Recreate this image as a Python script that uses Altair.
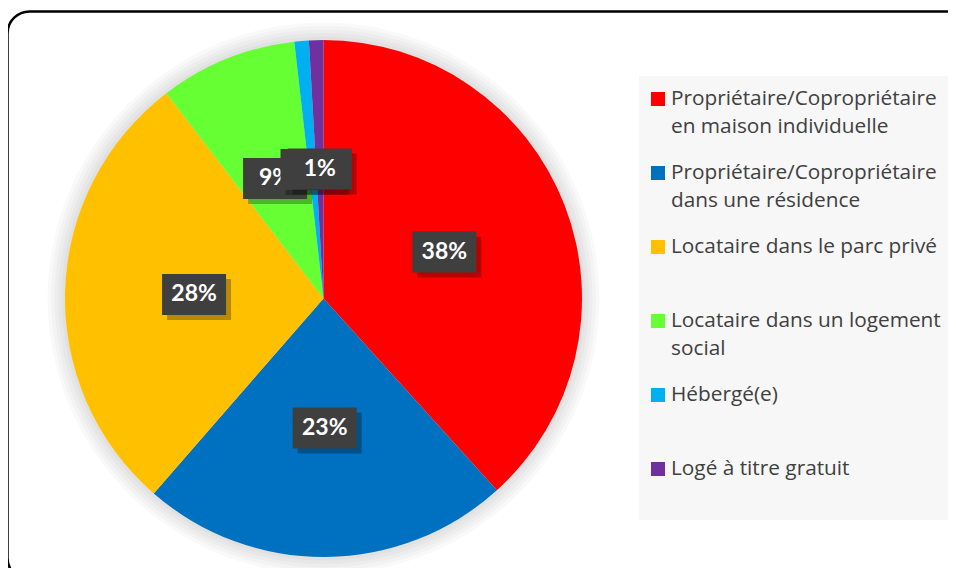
import altair as alt
import pandas as pd

categories = [
    "Propriétaire/Copropriétaire en maison individuelle",
    "Propriétaire/Copropriétaire dans une résidence",
    "Locataire dans le parc privé",
    "Locataire dans un logement social",
    "Hébergé(e)",
    "Logé à titre gratuit",
]
line1 = [
    "Propriétaire/Copropriétaire",
    "Propriétaire/Copropriétaire",
    "Locataire dans le parc privé",
    "Locataire dans un logement",
    "Hébergé(e)",
    "Logé à titre gratuit",
]
line2 = ["en maison individuelle", "dans une résidence", "", "social", "", ""]
values = [38.3, 23.1, 28.2, 8.6, 0.9, 0.9]
colors = ["#FF0000", "#0070C0", "#FFC000", "#66FF33", "#00B0F0", "#7030A0"]

df = pd.DataFrame({
    "cat": categories,
    "l1": line1,
    "l2": line2,
    "value": values,
    "order": list(range(1, len(categories) + 1)),
})

W, H = 940, 560
CX, CY, R, RL = 315.5, 290.5, 258.5, 129.5
BW, BH = 64, 41

color_scale = alt.Scale(domain=categories, range=colors)
base = alt.Chart(df)

# outer rounded border
border = base.transform_filter("datum.order == 1").mark_rect(
    fill="transparent", stroke="black", strokeWidth=2.5, cornerRadius=22
).encode(x=alt.value(-0.5), x2=alt.value(W + 30), y=alt.value(3.5), y2=alt.value(H + 12))

# soft shadow around pie
glow = []
for k in range(1, 6):
    glow.append(
        base.transform_aggregate(total="sum(value)").mark_arc(
            radius=R + 3.5 * k, color="black", opacity=0.022
        ).encode(theta=alt.Theta("total:Q"), x=alt.value(CX), y=alt.value(CY))
    )

pie = base.mark_arc(radius=R).encode(
    theta=alt.Theta("value:Q", stack=True),
    color=alt.Color("cat:N", scale=color_scale, legend=None),
    order=alt.Order("order:Q", sort="ascending"),
    x=alt.value(CX),
    y=alt.value(CY),
)

lab = base.transform_joinaggregate(total="sum(value)").transform_window(
    cum="sum(value)", sort=[alt.SortField("order", order="ascending")]
).transform_calculate(
    mid="(datum.cum - datum.value/2) / datum.total * 2 * PI",
    px=f"{CX} + {RL} * sin(datum.mid)",
    py=f"{CY} - {RL} * cos(datum.mid)",
    bx1=f"datum.px - {BW/2}",
    bx2=f"datum.px + {BW/2}",
    by1=f"datum.py - {BH/2}",
    by2=f"datum.py + {BH/2}",
    sx1=f"datum.px - {BW/2} + 5",
    sx2=f"datum.px + {BW/2} + 5",
    sy1=f"datum.py - {BH/2} + 5",
    sy2=f"datum.py + {BH/2} + 5",
    lbl="round(datum.value) + '%'",
)


def label_group(flt):
    b = lab.transform_filter(flt)
    shadow = b.mark_rect(color="black", opacity=0.28).encode(
        x=alt.X("sx1:Q", scale=None, axis=None), x2="sx2:Q",
        y=alt.Y("sy1:Q", scale=None, axis=None), y2="sy2:Q",
    )
    box = b.mark_rect(color="#3F3F3F").encode(
        x=alt.X("bx1:Q", scale=None, axis=None), x2="bx2:Q",
        y=alt.Y("by1:Q", scale=None, axis=None), y2="by2:Q",
    )
    txt = b.mark_text(
        font="Lato", fontWeight="bold", fontSize=23, color="white",
        align="center", baseline="middle",
    ).encode(
        x=alt.X("px:Q", scale=None, axis=None),
        y=alt.Y("py:Q", scale=None, axis=None),
        text="lbl:N",
    )
    return [shadow, box, txt]


label_layers = label_group("datum.order <= 4")
for o in range(5, len(categories) + 1):
    label_layers += label_group(f"datum.order == {o}")

# legend
FONT = "Open Sans"
FS = 20.8
leg = base.transform_calculate(ly="91 + (datum.order - 1) * 74")
leg_bg = base.transform_filter("datum.order == 1").mark_rect(color="#F7F7F7").encode(
    x=alt.value(631), x2=alt.value(W + 10), y=alt.value(68), y2=alt.value(512)
)
leg_sq = leg.mark_square(size=196, opacity=1).encode(
    x=alt.value(650),
    y=alt.Y("ly:Q", scale=None, axis=None),
    color=alt.Color("cat:N", scale=color_scale, legend=None),
)
leg_t1 = leg.mark_text(
    font=FONT, fontSize=FS, color="#404040", align="left", baseline="middle"
).encode(x=alt.value(663), y=alt.Y("ly:Q", scale=None, axis=None), text="l1:N")
leg_t2 = leg.mark_text(
    font=FONT, fontSize=FS, color="#404040", align="left", baseline="middle", dy=28
).encode(x=alt.value(663), y=alt.Y("ly:Q", scale=None, axis=None), text="l2:N")

chart = alt.layer(
    *glow, pie, *label_layers, leg_bg, leg_sq, leg_t1, leg_t2, border
).resolve_scale(theta="independent").properties(
    width=W, height=H, padding=0, autosize="none", background="white"
).configure_view(strokeWidth=0)

chart.save("out.html", embed_options={"renderer": "svg", "actions": False})
